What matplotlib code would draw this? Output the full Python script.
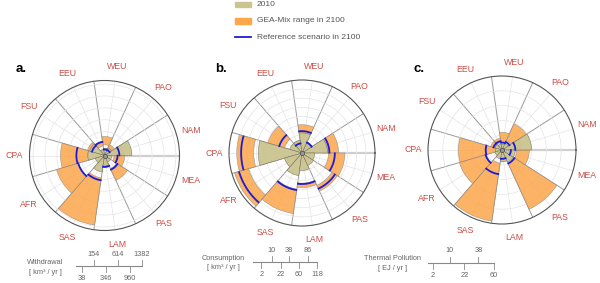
import numpy as np
import matplotlib
matplotlib.use('Agg')
import matplotlib.pyplot as plt
from matplotlib.patches import Rectangle

plt.rcParams['font.family'] = ['Liberation Sans', 'DejaVu Sans']

regions = ['NAM', 'PAO', 'WEU', 'EEU', 'FSU', 'CPA', 'AFR', 'SAS', 'LAM', 'PAS', 'MEA']

# a. withdrawal [km3/yr]
wd_2010 = [203, 19, 14, 10, 65, 75, 25, 75, 31, 14, 14]
wd_min = [38, 14, 31, 25, 46, 75, 203, 139, 19, 55, 25]
wd_max = [98, 38, 98, 55, 86, 526, 677, 1337, 38, 203, 111]
wd_ref = [60, 10, 10, 51, 46, 214, 203, 169, 35, 65, 46]
wd_ticks = [38, 154, 346, 614, 960, 1382]

# b. consumption [km3/yr]
cons_2010 = [18.8, 4.1, 11.6, 4.7, 4.7, 55.3, 9.6, 15.0, 8.7, 5.4, 4.7]
cons_min = [18.8, 1.9, 11.6, 1.5, 9.6, 67.4, 89.3, 38.4, 26.1, 36.5, 20.2]
cons_max = [38.4, 4.1, 23.1, 4.7, 36.5, 122.7, 142.3, 107.7, 34.7, 50.8, 53.0]
cons_ref = [21.6, 3.8, 13.8, 2.7, 16.2, 106.8, 124.4, 40.3, 27.7, 44.4, 31.1]
cons_ticks = [2, 10, 22, 38, 60, 86, 118]

# c. thermal pollution [EJ/yr]
th_2010 = [9.6, 0.6, 0.38, 0.38, 0.6, 0.49, 0.6, 0.86, 1.54, 1.94, 1.94]
th_min = [1.54, 1.18, 0.86, 0.6, 0.6, 0.49, 2.9, 1.94, 0.6, 2.4, 2.4]
th_max = [4.06, 9.1, 3.46, 1.54, 1.54, 20.9, 21.6, 56.5, 1.35, 46.5, 8.2]
th_ref = [1.94, 0.86, 0.6, 0.86, 0.86, 2.9, 3.2, 6.5, 0.86, 2.4, 0.86]
th_ticks = [2, 10, 22, 38, 60]

OLIVE = '#cbc48f'
ORANGE = '#fda64a'
BLUE = '#1c1cd6'
RED = '#cc4c45'
GRAY = '#666666'

W, H = 600, 283
fig = plt.figure(figsize=(6, 2.83), dpi=100)
over = fig.add_axes([0, 0, 1, 1])
over.set_xlim(0, W)
over.set_ylim(H, 0)
over.axis('off')

n = len(regions)
wid = 2 * np.pi / n
th = wid / 2 + wid * np.arange(n)
edges = wid * np.arange(n)

panels = [
    dict(letter='a.', cx=104.5, cy=155.5, rad=75, rmax=6.3, base=38.4,
         y2010=wd_2010, lo=wd_min, hi=wd_max, ref=wd_ref, ticks=wd_ticks,
         title=['Withdrawal', '[ km³ / yr ]'], tx=45, ty=262.5, by=266, bstart=0.5),
    dict(letter='b.', cx=302, cy=153, rad=73, rmax=8.0, base=2.4,
         y2010=cons_2010, lo=cons_min, hi=cons_max, ref=cons_ref, ticks=cons_ticks,
         title=['Consumption', '[ km³ / yr ]'], tx=223.5, ty=258, by=262, bstart=0.0),
    dict(letter='c.', cx=502, cy=150, rad=74, rmax=5.0, base=2.4,
         y2010=th_2010, lo=th_min, hi=th_max, ref=th_ref, ticks=th_ticks,
         title=['Thermal Pollution', '[ EJ / yr ]'], tx=392.5, ty=259, by=262.5, bstart=0.55),
]

for p in panels:
    cx, cy, rad, rmax = p['cx'], p['cy'], p['rad'], p['rmax']
    ax = fig.add_axes([(cx - rad) / W, (H - cy - rad) / H, 2 * rad / W, 2 * rad / H],
                      projection='polar')
    sq = lambda v: np.sqrt(np.asarray(v, dtype=float) / p['base'])

    ax.set_ylim(0, rmax)
    ax.set_yticks(np.arange(1, int(np.ceil(rmax))))
    ax.set_yticklabels([])
    ax.set_xticks(th)
    ax.set_xticklabels([])
    ax.grid(color='#e4e4e4', lw=0.5)
    ax.spines['polar'].set_color('#555555')
    ax.spines['polar'].set_linewidth(0.8)

    for e in edges:
        if e == 0:
            ax.plot([e, e], [0, rmax], color='#cfcfcf', lw=1.6, zorder=1)
        else:
            ax.plot([e, e], [0, rmax], color='#9a9a9a', lw=0.7, zorder=1)

    lo, hi = sq(p['lo']), sq(p['hi'])
    ax.bar(th, hi - lo, bottom=lo, width=wid, color=ORANGE, alpha=0.85,
           edgecolor='#8a8a8a', linewidth=0.4, zorder=2)
    ax.bar(th, sq(p['y2010']), width=wid, color=OLIVE, alpha=0.95,
           edgecolor='#77776a', linewidth=0.4, zorder=3)
    for t, rv in zip(th, sq(p['ref'])):
        arc = np.linspace(t - wid / 2 * 0.96, t + wid / 2 * 0.96, 30)
        ax.plot(arc, np.full_like(arc, rv), color=BLUE, lw=1.3, zorder=4)
    ax.plot([0], [0], 'o', ms=3, color='#999999', mec='#555555', mew=0.6, zorder=5)

    for t, name in zip(th, regions):
        ax.text(t, rmax * 1.2, name, ha='center', va='center', fontsize=6.3,
                color=RED, clip_on=False)

    fig.text((cx - rad - 14) / W, 1 - 72 / H, p['letter'], fontsize=9.5,
             fontweight='bold', va='baseline')

    # scale bar below the chart
    unit = rad / rmax
    x0 = p['tx'] + 25 if False else None
    ticks = np.asarray(p['ticks'], dtype=float)
    k = sq(ticks)
    xs0 = {'a.': 70.1, 'b.': 252.9, 'c.': 419.6}[p['letter']]
    xt = xs0 + unit * k
    by = p['by']
    over.plot([xs0 + unit * p['bstart'], xt[-1]], [by, by], color='#888888', lw=0.8)
    for i, (x, v) in enumerate(zip(xt, p['ticks'])):
        if i % 2 == 0:
            over.plot([x, x], [by, by + 6], color='#888888', lw=0.6)
            over.text(x, by + 13, f'{v:g}', ha='center', va='center', fontsize=5.3, color=GRAY)
        else:
            over.plot([x, x], [by, by - 6], color='#888888', lw=0.6)
            over.text(x, by - 12, f'{v:g}', ha='center', va='center', fontsize=5.3, color=GRAY)
    over.text(p['tx'], p['ty'], p['title'][0], ha='center', va='center', fontsize=5.3, color=GRAY)
    over.text(p['tx'], p['ty'] + 9.5, p['title'][1], ha='center', va='center', fontsize=5.3, color=GRAY)

# legend at the top
over.add_patch(Rectangle((235, 1.5), 16, 5.5, color=OLIVE))
over.add_patch(Rectangle((235, 18.3), 16, 5.5, color=ORANGE))
over.plot([235, 251], [37.3, 37.3], color=BLUE, lw=1.3)
for y, s in [(4.5, '2010'), (21, 'GEA-Mix range in 2100'), (37.3, 'Reference scenario in 2100')]:
    over.text(257, y, s, ha='left', va='center', fontsize=6, color='#555555')

fig.savefig('out.png', dpi=100)
